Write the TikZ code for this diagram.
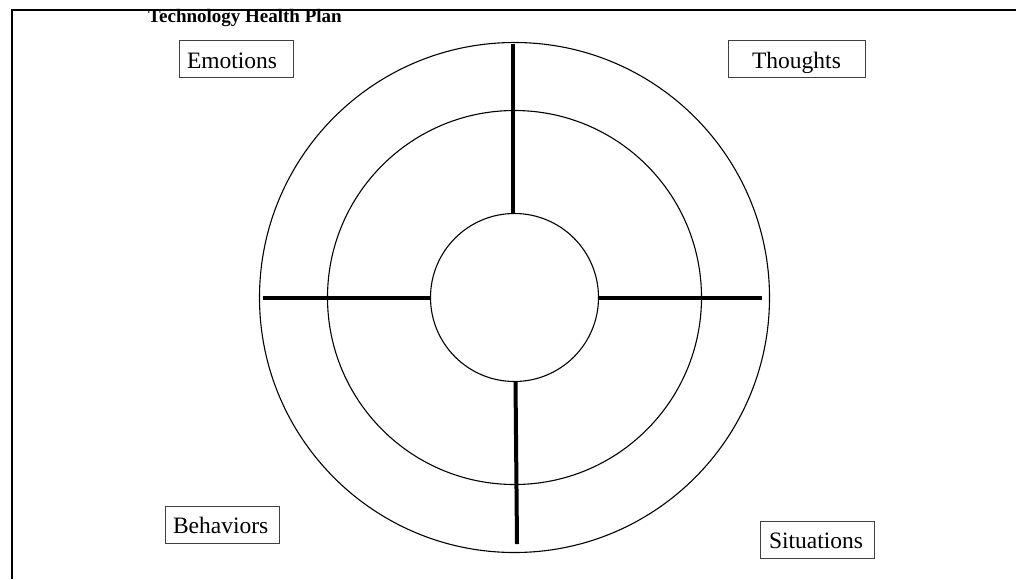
\documentclass[tikz,border=0pt]{standalone}
\usepackage{fontspec}
\setmainfont{Liberation Serif}
\begin{document}
\begin{tikzpicture}[x=1pt,y=-1pt,
  ring/.style={draw=black,line width=1.1pt,circle,inner sep=0pt},
  spoke/.style={draw=black,line width=4pt},
  label box/.style={draw=black!75,line width=1pt,font=\fontsize{23.5}{26}\selectfont,
    text height=23pt,text depth=5pt,inner ysep=4.5pt,inner xsep=8pt,text width=98pt,align=left},
  frame/.style={draw=black,line width=2.5pt}]
\useasboundingbox (0,0) rectangle (1016,579);
% frame
\coordinate (fbl) at (12,579);
\coordinate (ftl) at (12,10);
\coordinate (ftr) at (1016,10);
\draw[frame] (fbl) -- (ftl) -- (ftr);
% title
\node[anchor=base west,inner sep=0pt,font=\bfseries\fontsize{19}{21}\selectfont] (title) at (148,22.7) {Technology Health Plan};
% rings
\node[ring,minimum size=510pt] (outer) at (514.5,297.5) {};
\node[ring,minimum size=374pt] (middle) at (514.5,297.5) {};
\node[ring,minimum size=168pt] (inner) at (514.5,297.5) {};
% spokes
\coordinate (t1) at (512.5,44);
\coordinate (t2) at (512.5,213.5);
\coordinate (b1) at (515.5,381.5);
\coordinate (b2) at (517,544);
\coordinate (l1) at (263,298);
\coordinate (l2) at (430.5,298);
\coordinate (r1) at (598.5,297.7);
\coordinate (r2) at (762,297.7);
\draw[spoke] (t1) -- (t2);
\draw[spoke] (b1) -- (b2);
\draw[spoke] (l1) -- (l2);
\draw[spoke] (r1) -- (r2);
% labels
\node[label box] (emotions) at (236,59) {Emotions};
\node[label box,text width=121pt,align=center] (thoughts) at (796.5,59) {Thoughts};
\node[label box] (behaviors) at (222,524.5) {Behaviors};
\node[label box,inner xsep=9pt,text width=96pt] (situations) at (817,539.5) {Situations};
\end{tikzpicture}
\end{document}
